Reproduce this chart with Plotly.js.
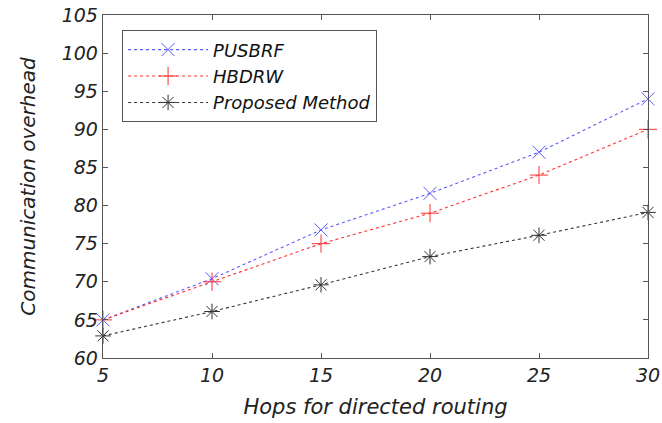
<!DOCTYPE html>
<html>
<head>
<meta charset="utf-8">
<script src="https://cdn.plot.ly/plotly-3.0.1.min.js"></script>
<style>html,body{margin:0;padding:0;background:#fff;}#chart{width:662px;height:423px;}</style>
</head>
<body>
<div id="chart"></div>
<script>
const hops = [5, 10, 15, 20, 25, 30];
const pusbrf = [65, 70.4, 76.8, 81.6, 87, 94];
const hbdrw = [65, 70, 75, 79, 84, 90];
const proposed = [62.9, 66.1, 69.6, 73.3, 76.1, 79.1];
const seriesNames = ['PUSBRF', 'HBDRW', 'Proposed Method'];
const xTicks = [5, 10, 15, 20, 25, 30];
const yTicks = [60, 65, 70, 75, 80, 85, 90, 95, 100, 105];

const font = 'DejaVu Sans, sans-serif';
function tr(y, name, color, symbol) {
  return {
    x: hops, y: y, name: name, type: 'scatter', mode: 'lines+markers',
    line: {color: color, width: 1.1, dash: 'dot'},
    marker: {symbol: symbol, size: 13, color: color, line: {color: color, width: 1}},
    cliponaxis: false
  };
}
const data = [
  tr(pusbrf, seriesNames[0], '#5a5aff', 'x-thin'),
  tr(hbdrw, seriesNames[1], '#ff3030', 'cross-thin'),
  tr(proposed, seriesNames[2], '#333333', 'asterisk-open')
];
const axisCommon = {
  showgrid: false, zeroline: false, showline: true, mirror: 'ticks',
  linecolor: '#555', linewidth: 1.3, ticks: 'inside', ticklen: 5, tickcolor: '#555',
  tickfont: {family: font, size: 19, color: '#222', style: 'italic'}
};
const layout = {
  width: 662, height: 423,
  margin: {l: 103, r: 14, t: 15, b: 65},
  paper_bgcolor: '#fff', plot_bgcolor: '#fff',
  showlegend: true,
  xaxis: Object.assign({}, axisCommon, {
    range: [5, 30], tickvals: xTicks, ticktext: xTicks.map(String),
    title: {text: 'Hops for directed routing', font: {family: font, size: 21, color: '#222', style: 'italic'}, standoff: 14}
  }),
  yaxis: Object.assign({}, axisCommon, {
    range: [60, 105], tickvals: yTicks, ticktext: yTicks.map(String),
    title: {text: 'Communication overhead', font: {family: font, size: 20, color: '#222', style: 'italic'}, standoff: 20}
  }),
  legend: {
    x: 0.035, y: 0.955, xanchor: 'left', yanchor: 'top',
    bgcolor: '#fff', bordercolor: '#555', borderwidth: 1,
    font: {family: font, size: 18, color: '#111', style: 'italic'},
    itemwidth: 80, tracegroupgap: 0
  }
};
Plotly.newPlot('chart', data, layout, {displayModeBar: false, staticPlot: true});
</script>
</body>
</html>
